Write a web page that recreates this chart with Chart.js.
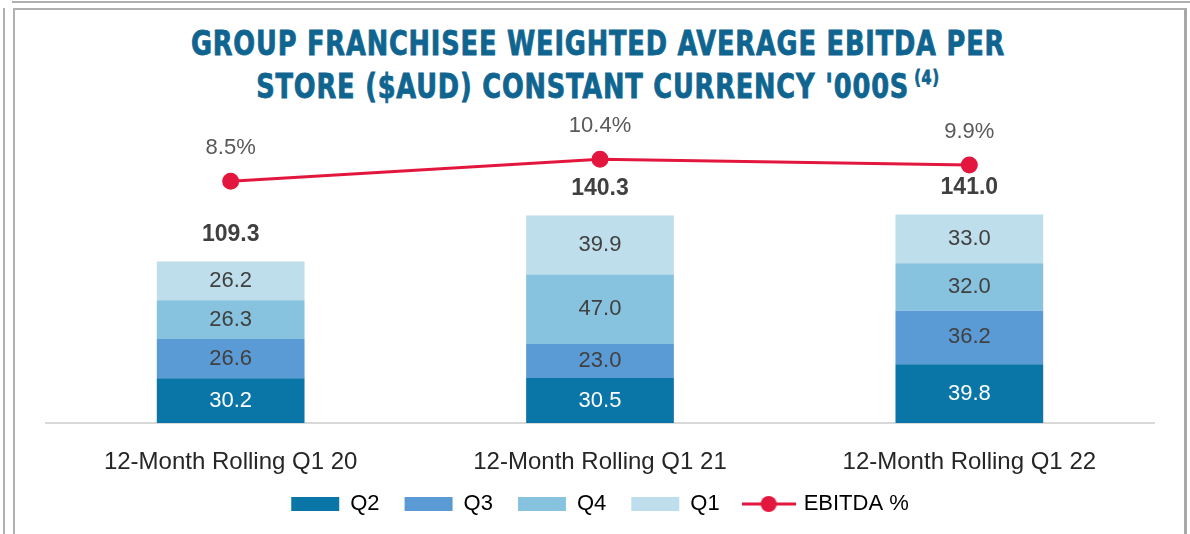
<!DOCTYPE html>
<html>
<head>
<meta charset="utf-8">
<script src="https://cdn.jsdelivr.net/npm/chart.js@4.4.1/dist/chart.umd.min.js"></script>
<style>
  body { margin: 0; background: #fff; width: 1190px; height: 534px; overflow: hidden; position: relative; }
  .frame-top { position: absolute; left: 12px; top: 1px; width: 1180px; border-top: 2px solid #b0b0b0; }
  .frame-left { position: absolute; left: 3px; top: 8px; height: 530px; border-left: 2px solid #b0b0b0; }
  .panel { position: absolute; left: 13px; top: 8px; width: 1169px; height: 540px;
           border-left: 2px solid #b0b0b0; border-top: 2px solid #b0b0b0; border-right: 3px solid #a8a8a8; }
  .title { position: absolute; left: 0; top: 22px; width: 1196px; text-align: center;
           font-family: "DejaVu Sans Condensed", "DejaVu Sans", sans-serif; font-weight: bold;
           color: #0f6590; font-size: 34px; line-height: 43px; letter-spacing: 1px;
           transform: scaleX(0.838); -webkit-text-stroke: 0.8px #0f6590; }
  .title sup { font-size: 19px; vertical-align: 0; position: relative; top: -14px; margin-left: 6px; }
  canvas { position: absolute; left: 0; top: 100px; }
</style>
</head>
<body>
<div class="frame-top"></div>
<div class="frame-left"></div>
<div class="panel"></div>
<div class="title">GROUP FRANCHISEE WEIGHTED AVERAGE EBITDA PER<br>STORE ($AUD) CONSTANT CURRENCY '000S<sup>(4)</sup></div>
<canvas id="ebitdaChart" width="1190" height="434"></canvas>
<script>
// Data
const categories = ["12-Month Rolling Q1 20", "12-Month Rolling Q1 21", "12-Month Rolling Q1 22"];
const q2 = [30.2, 30.5, 39.8];
const q3 = [26.6, 23.0, 36.2];
const q4 = [26.3, 47.0, 32.0];
const q1 = [26.2, 39.9, 33.0];
const totals = ["109.3", "140.3", "141.0"];
const ebitdaPct = [8.5, 10.4, 9.9];

const FONT = "'Liberation Sans', Arial, sans-serif";

// legend symbol for the line series: line with a dot
function lineMarker() {
  const c = document.createElement("canvas");
  c.width = 54;
  c.height = 18;
  const g = c.getContext("2d");
  g.strokeStyle = "#e3173e";
  g.lineWidth = 3;
  g.beginPath();
  g.moveTo(0, 9);
  g.lineTo(54, 9);
  g.stroke();
  g.fillStyle = "#e3173e";
  g.beginPath();
  g.arc(27, 9, 8, 0, Math.PI * 2);
  g.fill();
  return c;
}

// value labels plugin
const labelPlugin = {
  id: "valueLabels",
  afterLayout(chart) {
    // let the category labels run below the squeezed axis box without clipping
    chart.scales.x.bottom += 25;
  },
  afterDatasetsDraw(chart) {
    const ctx = chart.ctx;
    ctx.save();
    ctx.textAlign = "center";
    ctx.textBaseline = "middle";
    // stacked segment labels
    for (let d = 1; d <= 4; d++) {
      const meta = chart.getDatasetMeta(d);
      meta.data.forEach((bar, i) => {
        const v = chart.data.datasets[d].data[i];
        ctx.font = "22px " + FONT;
        ctx.fillStyle = d === 1 ? "#ffffff" : "#404040";
        ctx.fillText(v.toFixed(1), bar.x, (bar.y + bar.base) / 2);
      });
    }
    // totals above bars
    const top = chart.getDatasetMeta(4);
    top.data.forEach((bar, i) => {
      ctx.font = "bold 23px " + FONT;
      ctx.fillStyle = "#404040";
      ctx.fillText(totals[i], bar.x, bar.y - 27);
    });
    // percentages above line points
    const line = chart.getDatasetMeta(0);
    line.data.forEach((pt, i) => {
      ctx.font = "22px " + FONT;
      ctx.fillStyle = "#595959";
      ctx.fillText(ebitdaPct[i].toFixed(1) + "%", pt.x, pt.y - 33);
    });
    ctx.restore();
  },
};

const config = {
  type: "bar",
  data: {
    labels: categories,
    datasets: [
      {
        type: "line",
        label: "EBITDA %",
        data: ebitdaPct,
        yAxisID: "y1",
        borderColor: "#e3173e",
        backgroundColor: "#e3173e",
        borderWidth: 3,
        pointRadius: 7,
        pointHoverRadius: 7,
        pointStyle: "circle",
        legendMarker: lineMarker(),
        order: 0,
      },
      { label: "Q2", data: q2, backgroundColor: "#0a76a8", stack: "s", order: 1 },
      { label: "Q3", data: q3, backgroundColor: "#5b9bd5", stack: "s", order: 1 },
      { label: "Q4", data: q4, backgroundColor: "#87c3df", stack: "s", order: 1 },
      { label: "Q1", data: q1, backgroundColor: "#bfdeeb", stack: "s", order: 1 },
    ],
  },
  options: {
    responsive: false,
    animation: false,
    layout: { padding: { top: 20, left: 46, right: 36, bottom: 9 } },
    datasets: { bar: { categoryPercentage: 1, barPercentage: 0.4 } },
    scales: {
      x: {
        stacked: true,
        grid: { display: false, drawTicks: false },
        border: { color: "#d9d9d9", width: 2 },
        ticks: { color: "#262626", padding: 25, font: { size: 24, family: FONT } },
        afterFit(scale) {
          scale.height = 45;
        },
      },
      y: { stacked: true, display: false, min: 0, max: 205 },
      y1: { display: false, min: -12.31, max: 13.77 },
    },
    plugins: {
      tooltip: { enabled: false },
      legend: {
        position: "bottom",
        labels: {
          usePointStyle: true,
          pointStyleWidth: 48,
          boxHeight: 14,
          padding: 25,
          color: "#262626",
          font: { size: 22, family: FONT },
          generateLabels(chart) {
            const items = chart.data.datasets.map((ds, i) => ({
              text: ds.label,
              fillStyle: ds.backgroundColor,
              strokeStyle: ds.backgroundColor,
              lineWidth: 0,
              pointStyle: ds.type === "line" ? ds.legendMarker : "rect",
              datasetIndex: i,
              hidden: false,
            }));
            // line series goes last
            return items.slice(1).concat(items.slice(0, 1));
          },
        },
      },
    },
  },
  plugins: [labelPlugin],
};

new Chart(document.getElementById("ebitdaChart"), config);
</script>
</body>
</html>
